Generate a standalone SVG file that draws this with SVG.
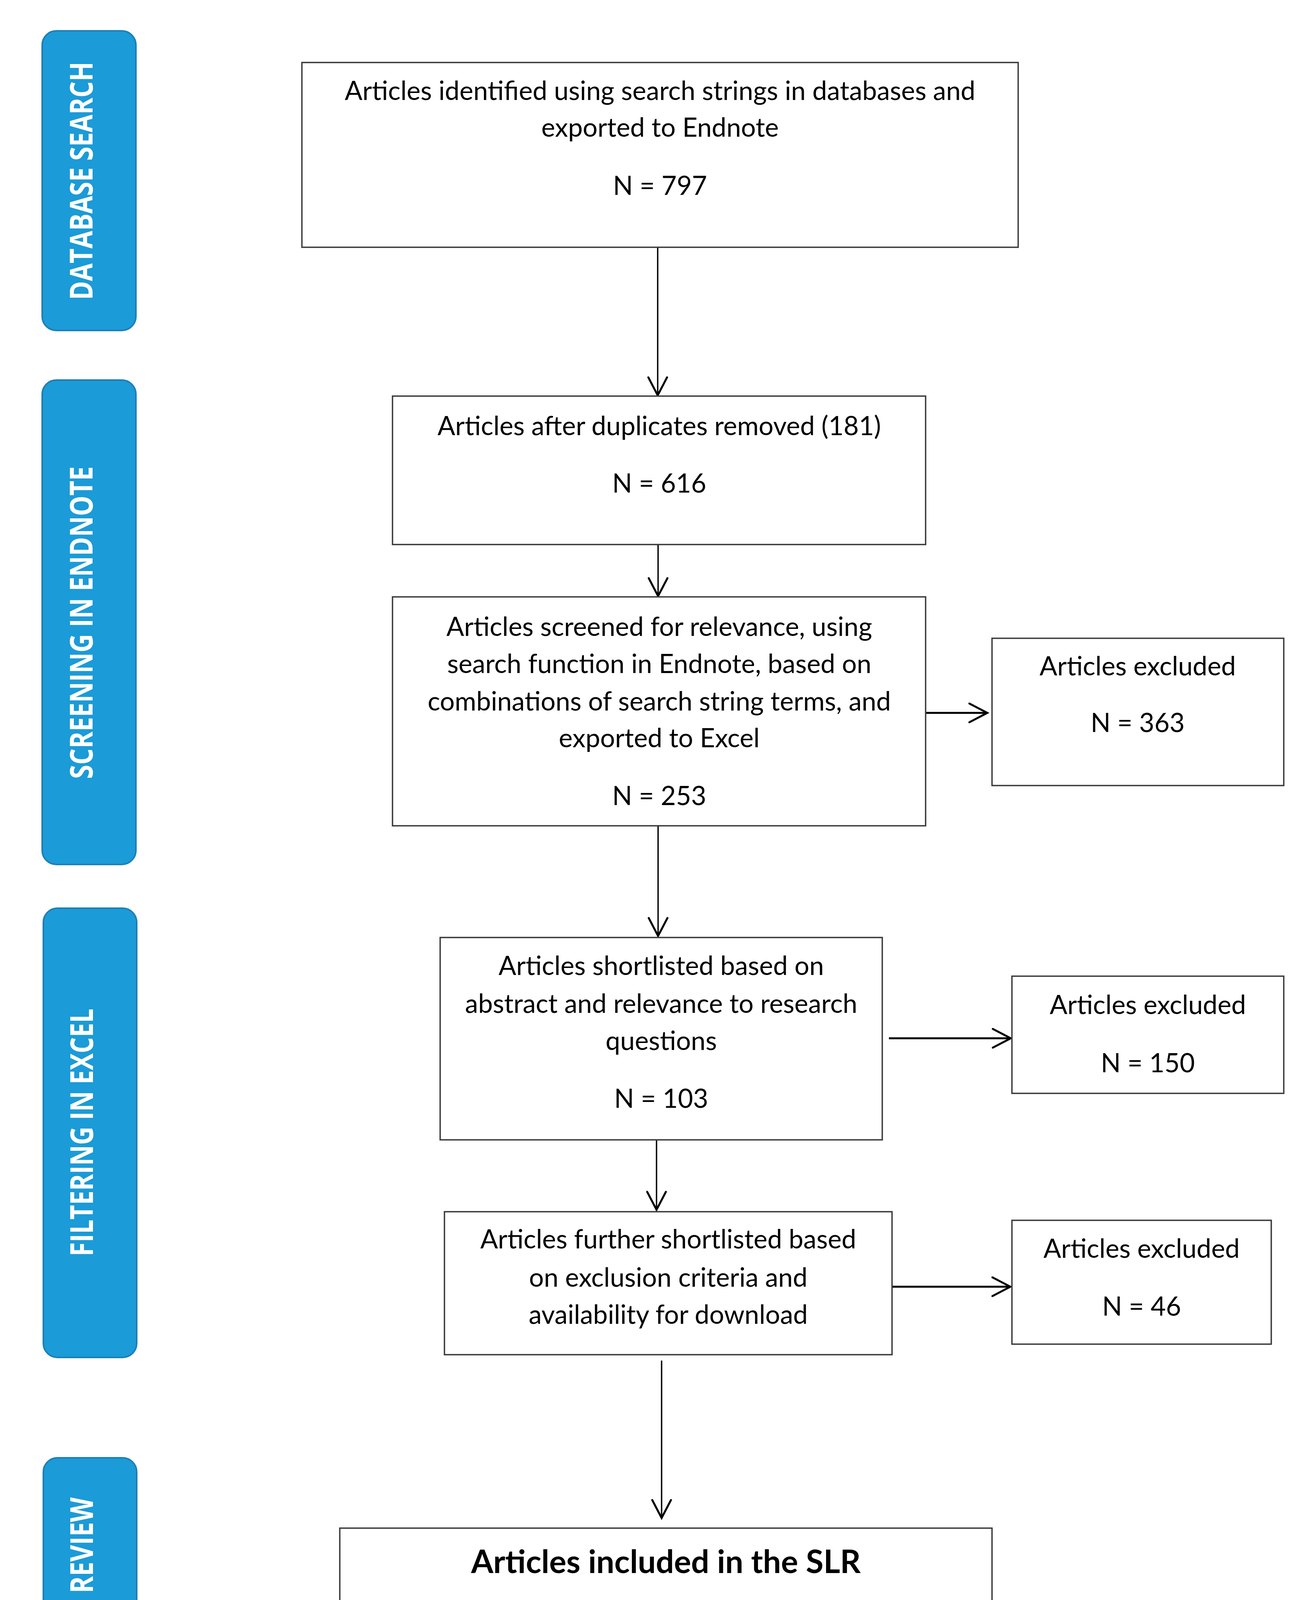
<svg xmlns="http://www.w3.org/2000/svg" width="3367" height="4742" viewBox="0 0 3367 4742">
<style>
.bg{fill:#ffffff}
.box{fill:#ffffff;stroke:#3a3a3a;stroke-width:3.5}
.lab{fill:#1b9bd7;stroke:#1d7fb6;stroke-width:4}
.lt{font-family:"Open Sans","Liberation Sans",sans-serif;font-weight:bold;font-size:80px;fill:#ffffff;text-anchor:middle}
.t{font-family:Lato,"Open Sans","Liberation Sans",sans-serif;font-size:67px;fill:#000000;text-anchor:middle}
.tb{font-family:Lato,"Open Sans","Liberation Sans",sans-serif;font-weight:bold;font-size:82px;fill:#000000;text-anchor:middle}
.v{fill:none;stroke:#000000;stroke-width:3.5}
.h{fill:none;stroke:#000000;stroke-width:5}
</style>
<defs>
<marker id="arr" viewBox="-52 -30 60 60" refX="0" refY="0" markerWidth="60" markerHeight="60" markerUnits="userSpaceOnUse" orient="auto">
<path d="M-46,-24 L0,0 L-46,24" fill="none" stroke="#000000" stroke-width="5" stroke-linecap="round" stroke-linejoin="miter"/>
</marker>
</defs>
<rect class="bg" x="0" y="0" width="3367" height="4742"/>

<g id="lane1">
<rect class="lab" x="108" y="79" width="240" height="767" rx="36"/>
<text class="lt" transform="translate(237,463) rotate(-90)" textLength="610" lengthAdjust="spacingAndGlyphs">DATABASE SEARCH</text>
</g>
<g id="lane2">
<rect class="lab" x="108" y="973" width="240" height="1240" rx="36"/>
<text class="lt" transform="translate(237,1594) rotate(-90)" textLength="800" lengthAdjust="spacingAndGlyphs">SCREENING IN ENDNOTE</text>
</g>
<g id="lane3">
<rect class="lab" x="111" y="2325" width="239" height="1150" rx="36"/>
<text class="lt" transform="translate(238,2899) rotate(-90)" textLength="634" lengthAdjust="spacingAndGlyphs">FILTERING IN EXCEL</text>
</g>
<g id="lane4">
<rect class="lab" x="111" y="3732" width="239" height="958" rx="36"/>
<text class="lt" transform="translate(238,4211) rotate(-90)" textLength="756" lengthAdjust="spacingAndGlyphs">FINAL LIST FOR REVIEW</text>
</g>

<g id="connectors">
<line class="v" x1="1684" y1="633" x2="1684" y2="1012" marker-end="url(#arr)"/>
<line class="v" x1="1685" y1="1394" x2="1685" y2="1526" marker-end="url(#arr)"/>
<line class="v" x1="1685" y1="2114" x2="1685" y2="2396" marker-end="url(#arr)"/>
<line class="v" x1="1681" y1="2912" x2="1681" y2="3097" marker-end="url(#arr)"/>
<line class="v" x1="1694" y1="3483" x2="1694" y2="3886" marker-end="url(#arr)"/>
<line class="h" x1="2368" y1="1825" x2="2528" y2="1825" marker-end="url(#arr)"/>
<line class="h" x1="2276" y1="2658" x2="2588" y2="2658" marker-end="url(#arr)"/>
<line class="h" x1="2284" y1="3294" x2="2587" y2="3294" marker-end="url(#arr)"/>
</g>

<g id="n1">
<rect class="box" x="773" y="160" width="1834" height="473"/>
<text class="t" x="1690" y="256">Articles identified using search strings in databases and</text>
<text class="t" x="1690" y="350">exported to Endnote</text>
<text class="t" x="1690" y="499">N = 797</text>
</g>
<g id="n2">
<rect class="box" x="1005" y="1014" width="1365" height="380"/>
<text class="t" x="1688" y="1114">Articles after duplicates removed (181)</text>
<text class="t" x="1688" y="1261">N = 616</text>
</g>
<g id="n3">
<rect class="box" x="1005" y="1528" width="1365" height="586"/>
<text class="t" x="1688" y="1628">Articles screened for relevance, using</text>
<text class="t" x="1688" y="1723">search function in Endnote, based on</text>
<text class="t" x="1688" y="1819">combinations of search string terms, and</text>
<text class="t" x="1688" y="1913">exported to Excel</text>
<text class="t" x="1688" y="2061">N = 253</text>
</g>
<g id="x1">
<rect class="box" x="2540" y="1634" width="747" height="377"/>
<text class="t" x="2913" y="1729">Articles excluded</text>
<text class="t" x="2913" y="1874">N = 363</text>
</g>
<g id="n4">
<rect class="box" x="1127" y="2400" width="1132" height="518"/>
<text class="t" x="1693" y="2496">Articles shortlisted based on</text>
<text class="t" x="1693" y="2593">abstract and relevance to research</text>
<text class="t" x="1693" y="2688">questions</text>
<text class="t" x="1693" y="2836">N = 103</text>
</g>
<g id="x2">
<rect class="box" x="2591" y="2499" width="696" height="300"/>
<text class="t" x="2939" y="2596">Articles excluded</text>
<text class="t" x="2939" y="2745">N = 150</text>
</g>
<g id="n5">
<rect class="box" x="1138" y="3102" width="1146" height="366"/>
<text class="t" x="1711" y="3196">Articles further shortlisted based</text>
<text class="t" x="1711" y="3294">on exclusion criteria and</text>
<text class="t" x="1711" y="3389">availability for download</text>
</g>
<g id="x3">
<rect class="box" x="2591" y="3124" width="664" height="317"/>
<text class="t" x="2923" y="3220">Articles excluded</text>
<text class="t" x="2923" y="3368">N = 46</text>
</g>
<g id="n6">
<rect class="box" x="870" y="3912" width="1670" height="398"/>
<text class="tb" x="1705" y="4027">Articles included in the SLR</text>
<text class="tb" x="1705" y="4203">N = 57</text>
</g>
</svg>
